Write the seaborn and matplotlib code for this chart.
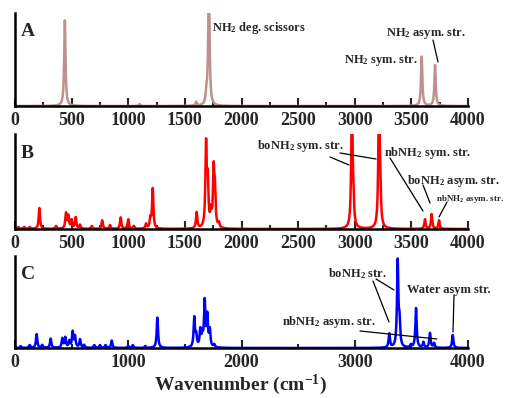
import numpy as np
import pandas as pd
import matplotlib
matplotlib.use("Agg")
import matplotlib.pyplot as plt
import seaborn as sns

# ---- data: peak centres (cm-1) and peak heights (relative) ----
a_centers = [440, 1100, 1600, 1690, 1712, 3591, 3709]
a_heights = [0.92, 0.02, 0.04, 0.12, 1.40, 0.53, 0.44]

b_centers = [30, 80, 130, 215, 362, 450, 471, 500, 536, 574, 678, 770, 839,
             933, 1000, 1050, 1157, 1195, 1216, 1604, 1687, 1702, 1730, 1754,
             1765, 1800, 2975, 2988, 3214, 3225, 3620, 3679, 3744]
b_heights = [0.02, 0.02, 0.02, 0.22, 0.03, 0.16, 0.13, 0.09, 0.12, 0.04, 0.03,
             0.09, 0.04, 0.12, 0.10, 0.03, 0.05, 0.10, 0.42, 0.17, 0.86, 0.45,
             0.15, 0.58, 0.35, 0.05, 1.40, 0.20, 1.40, 0.30, 0.10, 0.155, 0.09]

c_centers = [50, 130, 191, 240, 315, 418, 444, 480, 509, 530, 574, 610, 700,
             750, 800, 854, 1000, 1040, 1150, 1257, 1583, 1600, 1636, 1654,
             1675, 1698, 1720, 1760, 3305, 3379, 3395, 3496, 3541, 3606,
             3664, 3700, 3865]
c_heights = [0.02, 0.03, 0.15, 0.03, 0.10, 0.10, 0.11, 0.07, 0.17, 0.12,
             0.09, 0.03, 0.03, 0.03, 0.03, 0.08, 0.02, 0.03, 0.02, 0.33,
             0.32, 0.12, 0.18, 0.12, 0.49, 0.33, 0.18, 0.03, 0.15, 0.93,
             0.25, 0.03, 0.43, 0.06, 0.16, 0.05, 0.14]

width = 7.0  # Lorentzian half width (cm-1)
grid = np.arange(0, 4001, 1.0)


def spectrum(centers, heights):
    y = np.zeros_like(grid)
    for c, h in zip(centers, heights):
        y += h * width**2 / ((grid - c) ** 2 + width**2)
    return y


panels = [
    ("A", a_centers, a_heights, "#c09090", 500, 250),
    ("B", b_centers, b_heights, "#ff0000", 500, 250),
    ("C", c_centers, c_heights, "#0000ff", 1000, 500),
]

sns.set_theme(style="ticks")
plt.rcParams["font.family"] = ["Liberation Serif", "DejaVu Serif"]
plt.rcParams["font.weight"] = "bold"
plt.rcParams["mathtext.fontset"] = "custom"
plt.rcParams["mathtext.rm"] = "Liberation Serif:bold"
plt.rcParams["mathtext.it"] = "Liberation Serif:bold"
plt.rcParams["mathtext.bf"] = "Liberation Serif:bold"

W, H = 507, 398
fig = plt.figure(figsize=(W / 100, H / 100), dpi=100)

# axes boxes in pixels: (left, top, right, bottom)
boxes = [(15, 13, 468, 106), (15, 134, 468, 229), (15, 256, 468, 348)]
axes = []
for (l, t, r, b) in boxes:
    ax = fig.add_axes([l / W, 1 - b / H, (r - l) / W, (b - t) / H])
    axes.append(ax)

for ax, (lab, cen, hei, col, major, minor) in zip(axes, panels):
    df = pd.DataFrame({"wavenumber": grid, "intensity": spectrum(cen, hei)})
    sns.lineplot(data=df, x="wavenumber", y="intensity", ax=ax, color=col,
                 linewidth=1.8)
    ax.set_xlim(0, 4000)
    ax.set_ylim(0, 1)
    ax.set_xlabel("")
    ax.set_ylabel("")
    ax.set_yticks([])
    ax.set_xticks(np.arange(0, 4001, major))
    ax.set_xticks(np.arange(0, 4001, minor), minor=True)
    ax.tick_params(axis="x", which="major", direction="in", length=6, width=1.5,
                   labelsize=13, pad=4)
    ax.tick_params(axis="x", which="minor", direction="in", length=3, width=1.5)
    for lbl in ax.get_xticklabels():
        lbl.set_fontweight("bold")
    for s in ["top", "right"]:
        ax.spines[s].set_visible(False)
    for s in ["left", "bottom"]:
        ax.spines[s].set_linewidth(1.8)
        ax.spines[s].set_color("black")
    ax.text(0.013, 0.8, lab, transform=ax.transAxes, fontsize=14,
            fontweight="bold", ha="left", va="center")


def px2d(ax_i, px, py):
    l, t, r, b = boxes[ax_i]
    return ((px - l) / (r - l) * 4000, (b - py) / (b - t))


def note(ax_i, text, px, py, size=9, ha="left"):
    x, y = px2d(ax_i, px, py)
    axes[ax_i].text(x, y, text, fontsize=size, fontweight="bold", ha=ha,
                    va="center", clip_on=False)


def seg(ax_i, p1, p2):
    x1, y1 = px2d(ax_i, *p1)
    x2, y2 = px2d(ax_i, *p2)
    axes[ax_i].plot([x1, x2], [y1, y2], color="black", linewidth=0.9,
                    clip_on=False)


# Panel A annotations
note(0, r"NH$_2$ deg. scissors", 212, 28)
note(0, r"NH$_2$ sym. str.", 418, 61, ha="right")
note(0, r"NH$_2$ asym. str.", 386, 34)
seg(0, (433, 40), (438, 62))

# Panel B annotations
note(1, r"boNH$_2$ sym. str.", 257, 146)
note(1, r"nbNH$_2$ sym. str.", 384, 153)
note(1, r"boNH$_2$ asym. str.", 407, 181)
note(1, r"nbNH$_2$ asym. str.", 436, 199, size=6.5)
seg(1, (330, 157), (349, 165))
seg(1, (340, 153), (376, 159))
seg(1, (390, 158), (423, 211))
seg(1, (423, 185), (430, 203))
seg(1, (447, 202), (439, 217))

# Panel C annotations
note(2, r"boNH$_2$ str.", 328, 274)
note(2, "Water asym str.", 407, 290)
note(2, r"nbNH$_2$ asym. str.", 282, 322)
seg(2, (373, 281), (389, 322))
seg(2, (376, 279), (394, 290))
seg(2, (454, 295), (453, 332))
seg(2, (360, 331), (437, 339))

fig.text(240 / W, 1 - 385 / H, "Wavenumber (cm$^{\\mathregular{-1}}$)",
         fontsize=14, fontweight="bold", ha="center", va="center")

fig.savefig("out.png", dpi=100)
